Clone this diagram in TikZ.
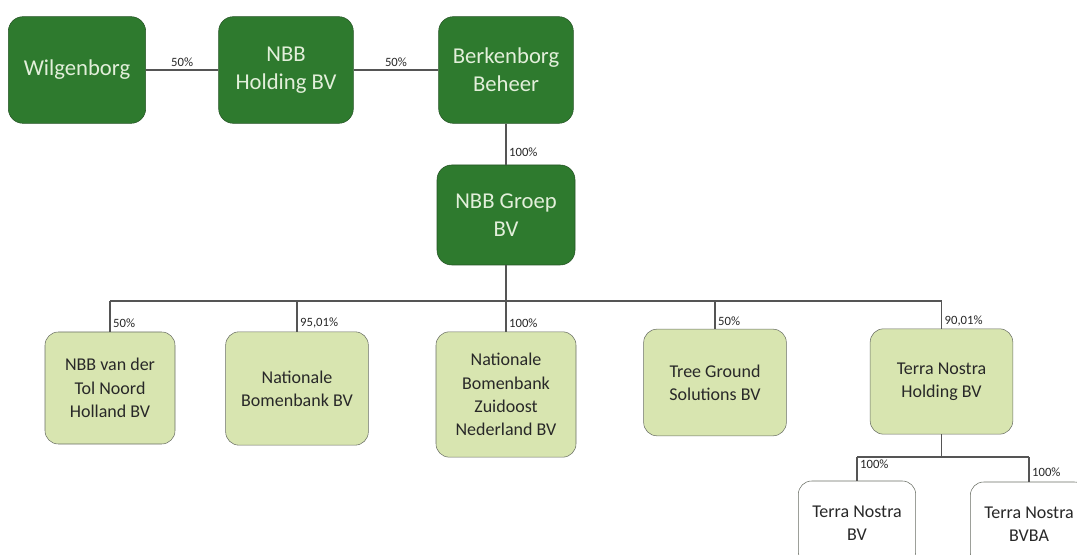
\documentclass[tikz,border=0pt]{standalone}
\usepackage{fontspec}
\setmainfont{Carlito}
\usetikzlibrary{positioning,calc}
\definecolor{holdgreen}{RGB}{46,122,46}
\definecolor{holdedge}{RGB}{38,84,38}
\definecolor{holdtext}{RGB}{226,239,218}
\definecolor{subgreen}{RGB}{216,229,176}
\definecolor{subedge}{RGB}{105,110,100}
\definecolor{subtext}{RGB}{40,40,40}
\definecolor{linkgray}{RGB}{85,85,85}

\begin{document}
\begin{tikzpicture}[
    x=0.75pt, y=-0.75pt,
    holding/.style={rectangle, rounded corners=11pt, draw=holdedge, fill=holdgreen, text=holdtext,
        minimum width=101pt, minimum height=80pt, align=center, font=\fontsize{17}{21}\selectfont},
    sub/.style={rectangle, rounded corners=10pt, draw=subedge, fill=subgreen, text=subtext,
        minimum width=107pt, minimum height=81pt, align=center, font=\fontsize{13.5}{17.5}\selectfont},
    subsub/.style={sub, fill=white, minimum width=88pt, minimum height=63pt},
    link/.style={draw=linkgray, line width=0.8pt},
    share/.style={font=\fontsize{9.5}{11}\selectfont, text=subtext, inner sep=2pt}
]
    \useasboundingbox (0,0) rectangle (1077,555);
    \clip (0,0) rectangle (1077,555);

    % top owners
    \node[holding, minimum width=103pt] (wilg) at (77,70) {Wilgenborg};
    \node[holding] (nbbh) at (286,70) {NBB\\Holding BV};
    \node[holding] (berk) at (506,70) {Berkenborg\\Beheer};
    \node[holding, minimum width=103.5pt, minimum height=75pt] (groep) at (506,215) {NBB Groep\\BV};

    \draw[link] (wilg) -- node[share, above] {50\%} (nbbh);
    \draw[link] (nbbh) -- node[share, above] {50\%} (berk);
    \draw[link] (berk) -- node[share, pos=0.69, anchor=west] {100\%} (groep);

    % subsidiaries
    \node[sub, minimum width=97.5pt, minimum height=84pt] (tol) at (110,388) {NBB van der\\Tol Noord\\Holland BV};
    \node[sub, minimum height=85pt] (bomen) at (297,388.5) {Nationale\\Bomenbank BV};
    \node[sub, minimum width=105pt, minimum height=94pt] (zuid) at (506,394.5) {Nationale\\Bomenbank\\Zuidoost\\Nederland BV};
    \node[sub, minimum height=80pt] (tree) at (715,382.5) {Tree Ground\\Solutions BV};
    \node[sub, minimum height=79pt] (tnh) at (941.5,381.5) {Terra Nostra\\Holding BV};

    \coordinate (bus) at (506,301);
    \draw[link] (groep) -- (bus);
    \draw[link] (tol.north |- bus) -- (tnh.north |- bus);
    \draw[link] (tol.north |- bus) -- node[share, pos=0.73, anchor=west] {50\%} (tol.north);
    \draw[link] (bomen.north |- bus) -- node[share, pos=0.73, anchor=west] {95,01\%} (bomen.north);
    \draw[link] (zuid.north |- bus) -- node[share, pos=0.73, anchor=west] {100\%} (zuid.north);
    \draw[link] (tree.north |- bus) -- node[share, pos=0.73, anchor=west] {50\%} (tree.north);
    \draw[link] (tnh.north |- bus) -- node[share, pos=0.73, anchor=west] {90,01\%} (tnh.north);

    % Terra Nostra
    \node[subsub] (tnbv) at (857,523) {Terra Nostra\\BV};
    \node[subsub] (tnbvba) at (1029,524) {Terra Nostra\\BVBA};

    \coordinate (tbus) at (941.5,457);
    \draw[link, line width=1.2pt] (tnh) -- (tbus);
    \draw[link] (tnbv.north |- tbus) -- (tnbvba.north |- tbus);
    \draw[link] (tnbv.north |- tbus) -- node[share, pos=0.3, anchor=west] {100\%} (tnbv.north);
    \draw[link] (tnbvba.north |- tbus) -- node[share, pos=0.62, anchor=west] {100\%} (tnbvba.north);
\end{tikzpicture}
\end{document}
